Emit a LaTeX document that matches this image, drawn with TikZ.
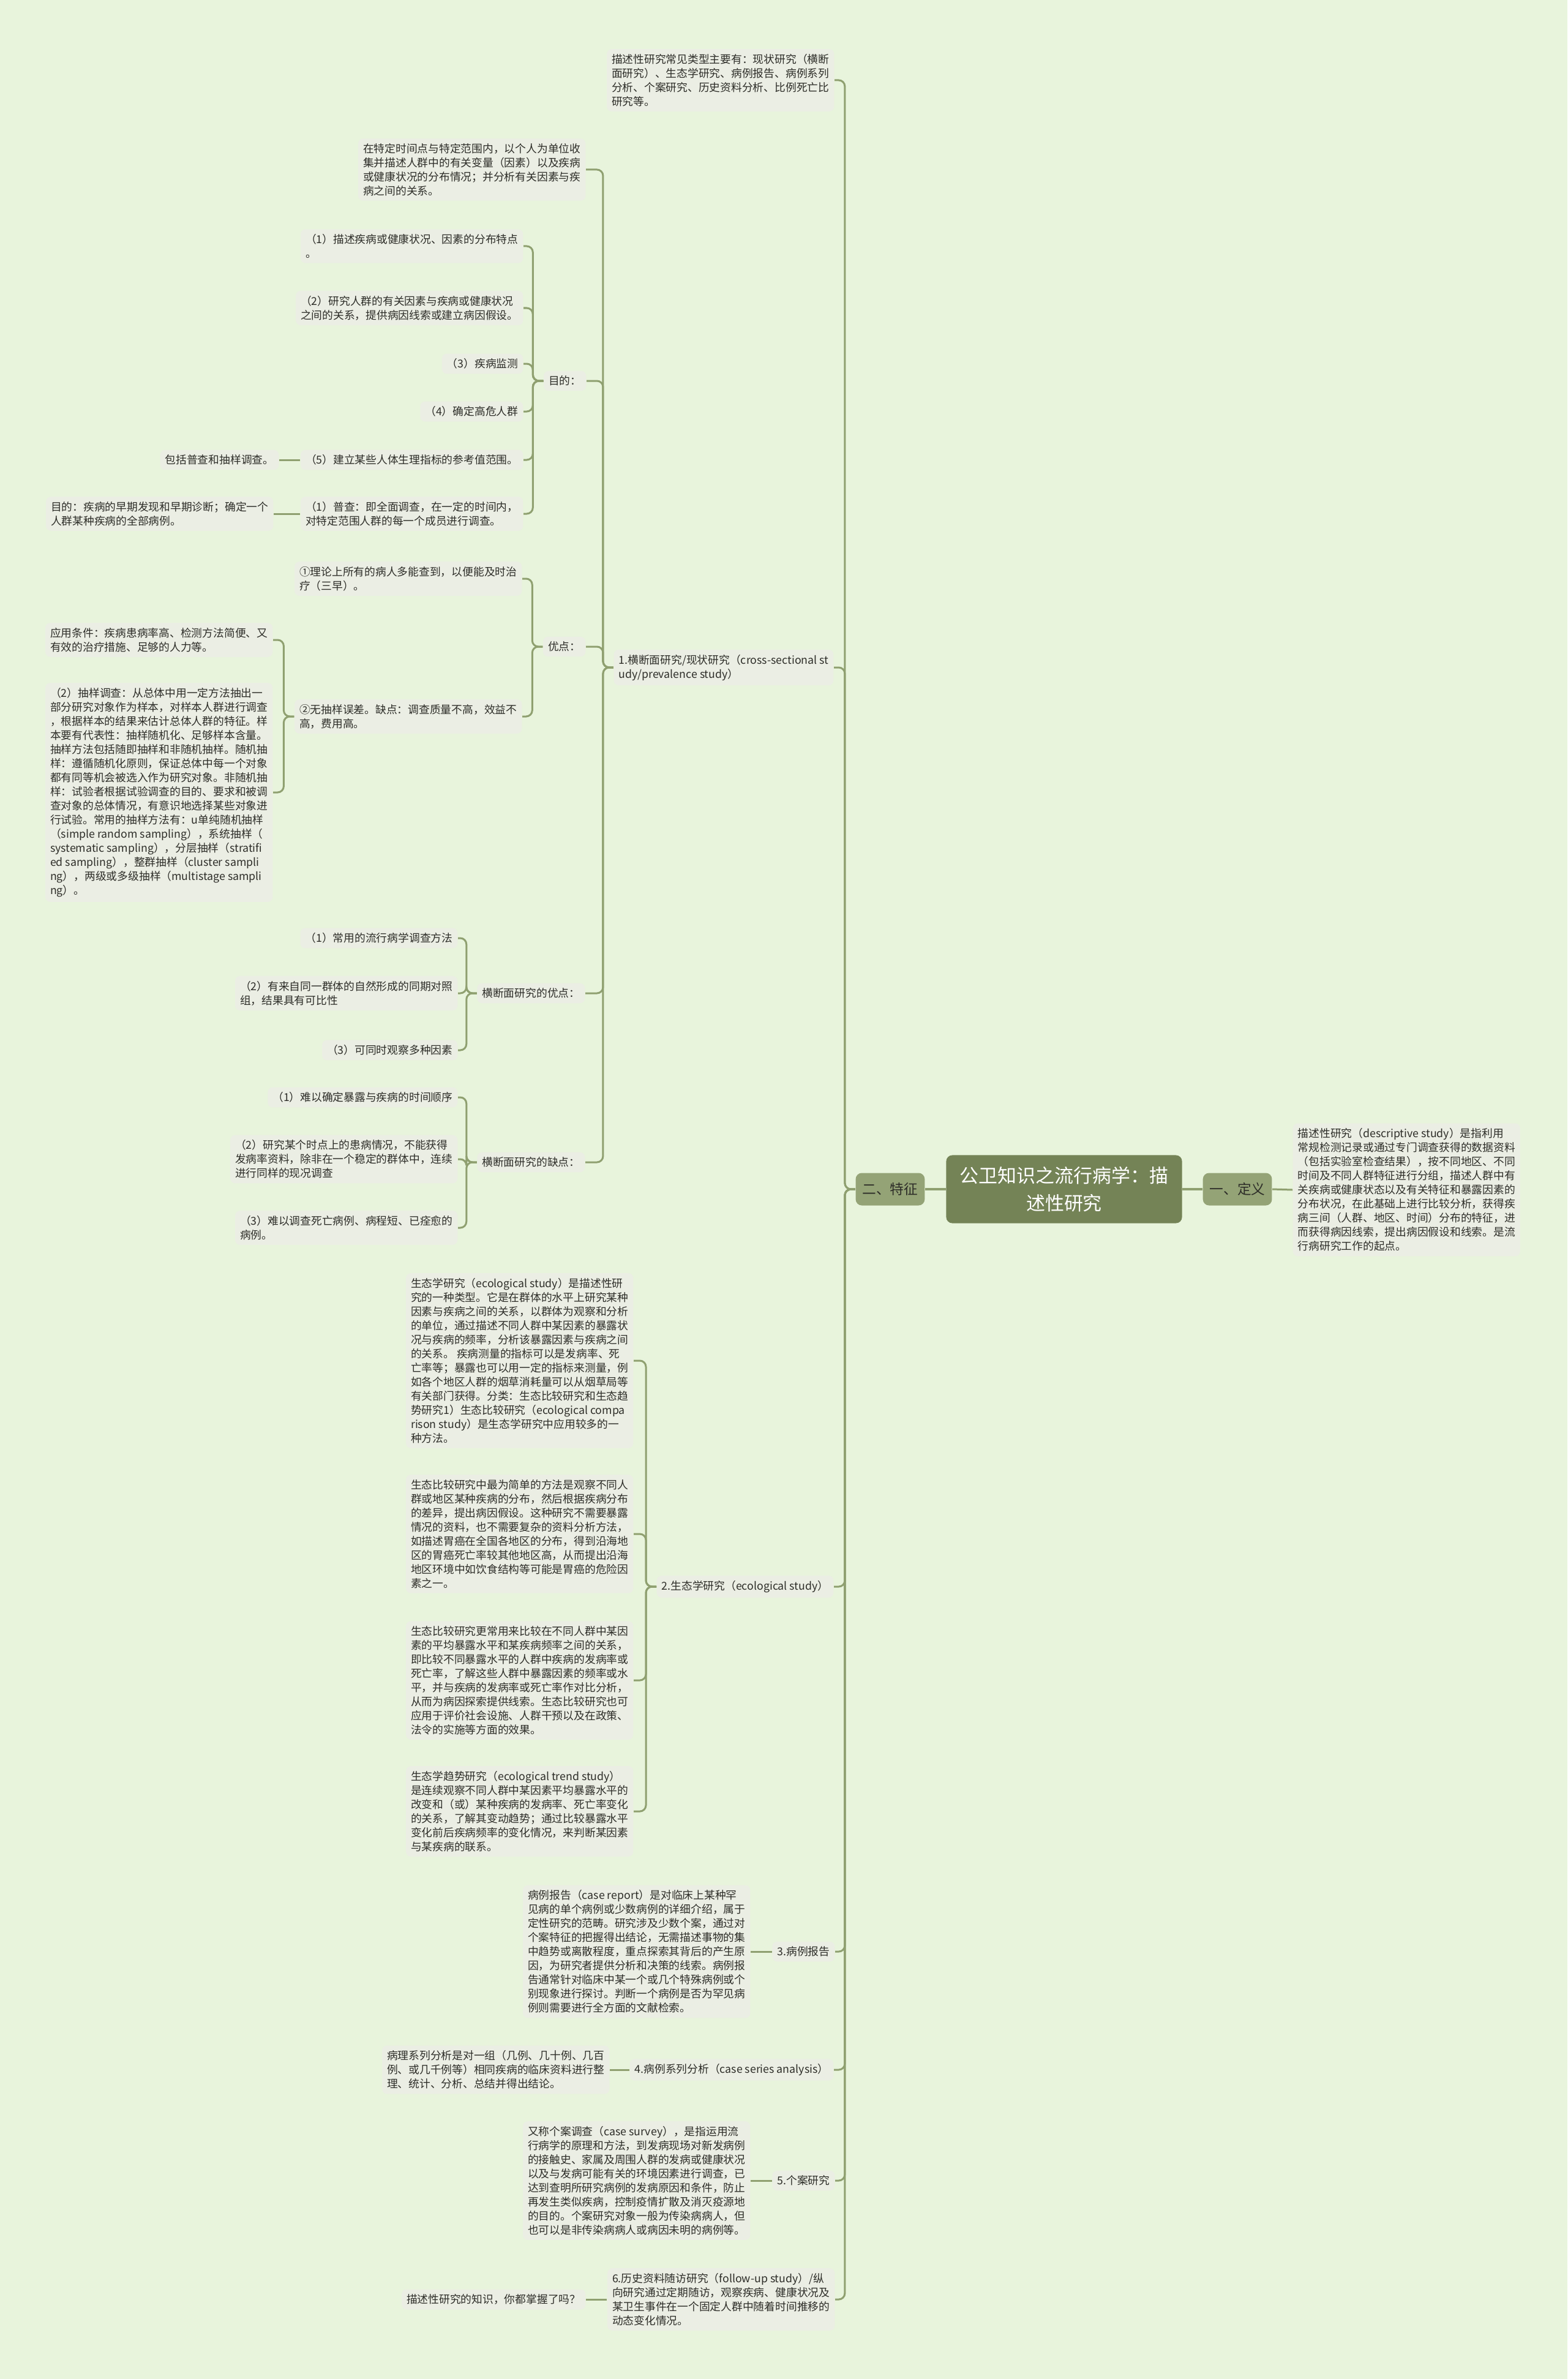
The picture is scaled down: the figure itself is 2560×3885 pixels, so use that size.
\documentclass[tikz,border=0pt]{standalone}
\usepackage{fontspec}
\setmainfont{Noto Sans CJK SC}
\definecolor{bgcol}{RGB}{232,244,220}
\definecolor{boxcol}{RGB}{235,238,228}
\definecolor{linecol}{RGB}{143,160,112}
\definecolor{rootcol}{RGB}{116,131,86}
\definecolor{lvlcol}{RGB}{148,163,118}
\definecolor{txtcol}{RGB}{45,45,40}
\begin{document}
\begin{tikzpicture}[x=0.01cm, y=-0.01cm,
  txt/.style={fill=boxcol, rounded corners=0.08cm, inner xsep=0.08cm, inner ysep=0.08cm, align=left, text=txtcol, font=\fontsize{5.05pt}{6.54pt}\selectfont},
  lvl/.style={fill=lvlcol, rounded corners=0.1cm, inner xsep=0.11cm, minimum height=0.53cm, text=txtcol, font=\fontsize{6.45pt}{8pt}\selectfont},
  rootbox/.style={fill=rootcol, rounded corners=0.1cm, minimum width=3.85cm, minimum height=1.11cm, align=center, text=white, font=\fontsize{8.8pt}{12.8pt}\selectfont},
  link/.style={draw=linecol, line width=0.03cm, rounded corners=0.1cm}]
\fill[bgcol](0,0)rectangle(2560,3885);
\useasboundingbox(0,0)rectangle(2560,3885);

\node[rootbox](root)at(1738,1942){公卫知识之流行病学：描\\述性研究};
\node[lvl, anchor=east](feat)at(1511,1942){二、特征};
\node[lvl, anchor=west](defn)at(1964,1942){一、定义};
\node[txt, anchor=west](defntxt)at(2111,1943){描述性研究（descriptive study）是指利用\\常规检测记录或通过专门调查获得的数据资料\\（包括实验室检查结果），按不同地区、不同\\时间及不同人群特征进行分组，描述人群中有\\关疾病或健康状态以及有关特征和暴露因素的\\分布状况，在此基础上进行比较分析，获得疾\\病三间（人群、地区、时间）分布的特征，进\\而获得病因线索，提出病因假设和线索。是流\\行病研究工作的起点。};

\node[txt, anchor=east](types)at(1363,131){描述性研究常见类型主要有：现状研究（横断\\面研究）、生态学研究、病例报告、病例系列\\分析、个案研究、历史资料分析、比例死亡比\\研究等。};
\node[txt, anchor=east](cross)at(1362,1090){1.横断面研究/现状研究（cross-sectional st\\udy/prevalence study）};
\node[txt, anchor=east](eco)at(1362,2591){2.生态学研究（ecological study）};
\node[txt, anchor=east](report)at(1364,3187){3.病例报告};
\node[txt, anchor=east](series)at(1362,3380){4.病例系列分析（case series analysis）};
\node[txt, anchor=east](casest)at(1364,3561){5.个案研究};
\node[txt, anchor=east](follow)at(1364,3755){6.历史资料随访研究（follow-up study）/纵\\向研究通过定期随访，观察疾病、健康状况及\\某卫生事件在一个固定人群中随着时间推移的\\动态变化情况。};

\node[txt, anchor=east](period)at(957,277){在特定时间点与特定范围内，以个人为单位收\\集并描述人群中的有关变量（因素）以及疾病\\或健康状况的分布情况；并分析有关因素与疾\\病之间的关系。};
\node[txt, anchor=east](aim)at(958,622){目的：};
\node[txt, anchor=east](merit)at(957,1056){优点：};
\node[txt, anchor=east](adv)at(956,1622){横断面研究的优点：};
\node[txt, anchor=east](disadv)at(956,1898){横断面研究的缺点：};

\node[txt, anchor=east](aim1)at(855,402){（1）描述疾病或健康状况、因素的分布特点\\。};
\node[txt, anchor=east](aim2)at(855,503){（2）研究人群的有关因素与疾病或健康状况\\之间的关系，提供病因线索或建立病因假设。};
\node[txt, anchor=east](aim3)at(855,594){（3）疾病监测};
\node[txt, anchor=east](aim4)at(855,672){（4）确定高危人群};
\node[txt, anchor=east](aim5)at(855,751){（5）建立某些人体生理指标的参考值范围。};
\node[txt, anchor=east](census)at(855,839){（1）普查：即全面调查，在一定的时间内，\\对特定范围人群的每一个成员进行调查。};
\node[txt, anchor=east](aim5x)at(456,751){包括普查和抽样调查。};
\node[txt, anchor=east](censusx)at(447,839){目的：疾病的早期发现和早期诊断；确定一个\\人群某种疾病的全部病例。};

\node[txt, anchor=east](merit1)at(853,945){①理论上所有的病人多能查到，以便能及时治\\疗（三早）。};
\node[txt, anchor=east](merit2)at(853,1170){②无抽样误差。缺点：调查质量不高，效益不\\高，费用高。};
\node[txt, anchor=east](cond)at(446,1045){应用条件：疾病患病率高、检测方法简便、又\\有效的治疗措施、足够的人力等。};
\node[txt, anchor=east](sample)at(446,1294){（2）抽样调查：从总体中用一定方法抽出一\\部分研究对象作为样本，对样本人群进行调查\\，根据样本的结果来估计总体人群的特征。样\\本要有代表性：抽样随机化、足够样本含量。\\抽样方法包括随即抽样和非随机抽样。随机抽\\样：遵循随机化原则，保证总体中每一个对象\\都有同等机会被选入作为研究对象。非随机抽\\样：试验者根据试验调查的目的、要求和被调\\查对象的总体情况，有意识地选择某些对象进\\行试验。常用的抽样方法有：u单纯随机抽样\\（simple random sampling），系统抽样（\\systematic sampling），分层抽样（stratifi\\ed sampling），整群抽样（cluster sampli\\ng），两级或多级抽样（multistage sampli\\ng）。};

\node[txt, anchor=east](adv1)at(748,1532){（1）常用的流行病学调查方法};
\node[txt, anchor=east](adv2)at(748,1622){（2）有来自同一群体的自然形成的同期对照\\组，结果具有可比性};
\node[txt, anchor=east](adv3)at(748,1715){（3）可同时观察多种因素};
\node[txt, anchor=east](dis1)at(748,1792){（1）难以确定暴露与疾病的时间顺序};
\node[txt, anchor=east](dis2)at(748,1893){（2）研究某个时点上的患病情况，不能获得\\发病率资料，除非在一个稳定的群体中，连续\\进行同样的现况调查};
\node[txt, anchor=east](dis3)at(748,2005){（3）难以调查死亡病例、病程短、已痊愈的\\病例。};

\node[txt, anchor=east](eco1)at(1035,2222){生态学研究（ecological study）是描述性研\\究的一种类型。它是在群体的水平上研究某种\\因素与疾病之间的关系，以群体为观察和分析\\的单位，通过描述不同人群中某因素的暴露状\\况与疾病的频率，分析该暴露因素与疾病之间\\的关系。 疾病测量的指标可以是发病率、死\\亡率等；暴露也可以用一定的指标来测量，例\\如各个地区人群的烟草消耗量可以从烟草局等\\有关部门获得。分类：生态比较研究和生态趋\\势研究1）生态比较研究（ecological compa\\rison study）是生态学研究中应用较多的一\\种方法。};
\node[txt, anchor=east](eco2)at(1035,2505){生态比较研究中最为简单的方法是观察不同人\\群或地区某种疾病的分布，然后根据疾病分布\\的差异，提出病因假设。这种研究不需要暴露\\情况的资料，也不需要复杂的资料分析方法，\\如描述胃癌在全国各地区的分布，得到沿海地\\区的胃癌死亡率较其他地区高，从而提出沿海\\地区环境中如饮食结构等可能是胃癌的危险因\\素之一。};
\node[txt, anchor=east](eco3)at(1035,2744){生态比较研究更常用来比较在不同人群中某因\\素的平均暴露水平和某疾病频率之间的关系，\\即比较不同暴露水平的人群中疾病的发病率或\\死亡率，了解这些人群中暴露因素的频率或水\\平，并与疾病的发病率或死亡率作对比分析，\\从而为病因探索提供线索。生态比较研究也可\\应用于评价社会设施、人群干预以及在政策、\\法令的实施等方面的效果。};
\node[txt, anchor=east](eco4)at(1035,2958){生态学趋势研究（ecological trend study）\\是连续观察不同人群中某因素平均暴露水平的\\改变和（或）某种疾病的发病率、死亡率变化\\的关系，了解其变动趋势；通过比较暴露水平\\变化前后疾病频率的变化情况，来判断某因素\\与某疾病的联系。};

\node[txt, anchor=east](reportx)at(1226,3187){病例报告（case report）是对临床上某种罕\\见病的单个病例或少数病例的详细介绍，属于\\定性研究的范畴。研究涉及少数个案，通过对\\个案特征的把握得出结论，无需描述事物的集\\中趋势或离散程度，重点探索其背后的产生原\\因，为研究者提供分析和决策的线索。病例报\\告通常针对临床中某一个或几个特殊病例或个\\别现象进行探讨。判断一个病例是否为罕见病\\例则需要进行全方面的文献检索。};
\node[txt, anchor=east](seriesx)at(996,3380){病理系列分析是对一组（几例、几十例、几百\\例、或几千例等）相同疾病的临床资料进行整\\理、统计、分析、总结并得出结论。};
\node[txt, anchor=east](casex)at(1226,3561){又称个案调查（case survey），是指运用流\\行病学的原理和方法，到发病现场对新发病例\\的接触史、家属及周围人群的发病或健康状况\\以及与发病可能有关的环境因素进行调查，已\\达到查明所研究病例的发病原因和条件，防止\\再发生类似疾病，控制疫情扩散及消灭疫源地\\的目的。个案研究对象一般为传染病病人，但\\也可以是非传染病病人或病因未明的病例等。};
\node[txt, anchor=east](quiz)at(957,3755){描述性研究的知识，你都掌握了吗？};

\draw[link, line width=0.04cm](root.west)--(feat.east);
\draw[link, line width=0.04cm](root.east)--(defn.west);
\draw[link](defn.east)--(defntxt.west);
\foreach \p/\c in {feat/types, feat/cross, feat/eco, feat/report, feat/series, feat/casest, feat/follow,
  cross/period, cross/aim, cross/merit, cross/adv, cross/disadv,
  aim/aim1, aim/aim2, aim/aim3, aim/aim4, aim/aim5, aim/census,
  merit/merit1, merit/merit2, merit2/cond, merit2/sample,
  adv/adv1, adv/adv2, adv/adv3, disadv/dis1, disadv/dis2, disadv/dis3,
  eco/eco1, eco/eco2, eco/eco3, eco/eco4}
  \draw[link](\p.west)--++(-17,0)|-(\c.east);
\foreach \p/\c in {aim5/aim5x, census/censusx, report/reportx, series/seriesx, casest/casex, follow/quiz}
  \draw[link](\p.west)--(\c.east);

\end{tikzpicture}
\end{document}
